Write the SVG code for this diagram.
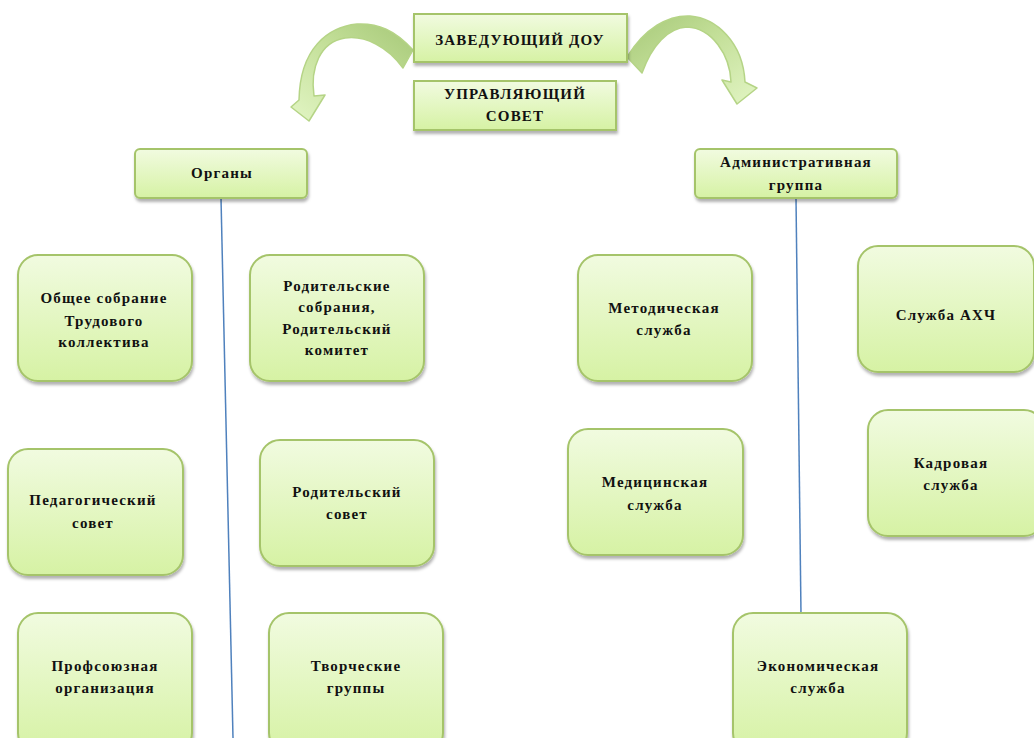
<svg xmlns="http://www.w3.org/2000/svg" width="1034" height="738" viewBox="0 0 1034 738">
<defs>
<linearGradient id="g" x1="0" y1="0" x2="0" y2="1">
<stop offset="0" stop-color="#f1fbe0"/>
<stop offset="1" stop-color="#d6f2a4"/>
</linearGradient>
<linearGradient id="gl" x1="1" y1="0" x2="0" y2="1">
<stop offset="0" stop-color="#a6c878"/>
<stop offset="0.45" stop-color="#c3df98"/>
<stop offset="1" stop-color="#e2f5c4"/>
</linearGradient>
<linearGradient id="gr" x1="0" y1="0" x2="1" y2="1">
<stop offset="0" stop-color="#a6c878"/>
<stop offset="0.45" stop-color="#c3df98"/>
<stop offset="1" stop-color="#e2f5c4"/>
</linearGradient>
<filter id="sh" x="-10%" y="-10%" width="130%" height="130%">
<feDropShadow dx="1" dy="3" stdDeviation="1.5" flood-color="#000" flood-opacity="0.3"/>
</filter>
</defs>
<style>
.box{fill:url(#g);stroke:#a5c46a;stroke-width:2;filter:url(#sh)}
.arr{stroke:#b5d486;stroke-width:1.5;stroke-linejoin:round}
.t{font-family:"Liberation Serif",serif;font-weight:bold;font-size:15px;fill:#111;text-anchor:middle;letter-spacing:1.2px}
.conn{stroke:#4f81bd;stroke-width:1.5;fill:none}
</style>
<rect width="1034" height="738" fill="#fff"/>
<g id="connectors">
<line class="conn" x1="221" y1="198" x2="233" y2="738"/>
<line class="conn" x1="796" y1="198" x2="801" y2="614"/>
</g>
<g id="arrow-left">
<path class="arr" fill="url(#gl)" d="M413,50 C395,30 378,23 357,24 C328,27 300,48 299,100 L291,107 L309,121 L325,95 L314,96 C310,68 320,42 345,38 C365,35 388,47 403,68 Z"/>
</g>
<g id="arrow-right">
<path class="arr" fill="url(#gr)" d="M627,57 C645,28 668,15 690,16 C716,18 743,42 745,82 L757,88 L737,104 L722,80 L731,82 C730,55 712,28 687,27 C668,28 652,45 642,73 Z"/>
</g>
<g id="n-head">
<rect class="box" x="414" y="14" width="213" height="48"/>
<text class="t" x="520" y="45">ЗАВЕДУЮЩИЙ ДОУ</text>
</g>
<g id="n-council">
<rect class="box" x="414" y="81" width="202" height="49"/>
<text class="t" x="515" y="99">УПРАВЛЯЮЩИЙ</text>
<text class="t" x="515" y="121">СОВЕТ</text>
</g>
<g id="n-organs">
<rect class="box" x="135" y="149" width="172" height="49" rx="5"/>
<text class="t" x="222" y="178">Органы</text>
</g>
<g id="n-admin">
<rect class="box" x="695" y="149" width="202" height="49" rx="5"/>
<text class="t" x="796" y="167">Административная</text>
<text class="t" x="796" y="190">группа</text>
</g>
<g id="n-general">
<rect class="box" x="18" y="255" width="174" height="126" rx="20"/>
<text class="t" x="104" y="303">Общее собрание</text>
<text class="t" x="104" y="326">Трудового</text>
<text class="t" x="104" y="347">коллектива</text>
</g>
<g id="n-parents-meet">
<rect class="box" x="250" y="255" width="174" height="126" rx="20"/>
<text class="t" x="337" y="291">Родительские</text>
<text class="t" x="337" y="312">собрания,</text>
<text class="t" x="337" y="334">Родительский</text>
<text class="t" x="337" y="355">комитет</text>
</g>
<g id="n-ped">
<rect class="box" x="8" y="449" width="175" height="126" rx="20"/>
<text class="t" x="93" y="505">Педагогический</text>
<text class="t" x="93" y="528">совет</text>
</g>
<g id="n-parents-council">
<rect class="box" x="260" y="440" width="174" height="126" rx="20"/>
<text class="t" x="347" y="497">Родительский</text>
<text class="t" x="347" y="519">совет</text>
</g>
<g id="n-union">
<rect class="box" x="18" y="613" width="174" height="140" rx="20"/>
<text class="t" x="105" y="671">Профсоюзная</text>
<text class="t" x="105" y="693">организация</text>
</g>
<g id="n-creative">
<rect class="box" x="269" y="613" width="174" height="140" rx="20"/>
<text class="t" x="356" y="671">Творческие</text>
<text class="t" x="356" y="693">группы</text>
</g>
<g id="n-method">
<rect class="box" x="578" y="255" width="174" height="126" rx="20"/>
<text class="t" x="664" y="313">Методическая</text>
<text class="t" x="664" y="335">служба</text>
</g>
<g id="n-ahch">
<rect class="box" x="858" y="246" width="176" height="126" rx="20"/>
<text class="t" x="946" y="320">Служба АХЧ</text>
</g>
<g id="n-med">
<rect class="box" x="568" y="429" width="175" height="126" rx="20"/>
<text class="t" x="655" y="487">Медицинская</text>
<text class="t" x="655" y="510">служба</text>
</g>
<g id="n-hr">
<rect class="box" x="868" y="410" width="176" height="126" rx="20"/>
<text class="t" x="951" y="468">Кадровая</text>
<text class="t" x="951" y="490">служба</text>
</g>
<g id="n-econ">
<rect class="box" x="733" y="613" width="174" height="140" rx="20"/>
<text class="t" x="818" y="671">Экономическая</text>
<text class="t" x="818" y="693">служба</text>
</g>
</svg>
